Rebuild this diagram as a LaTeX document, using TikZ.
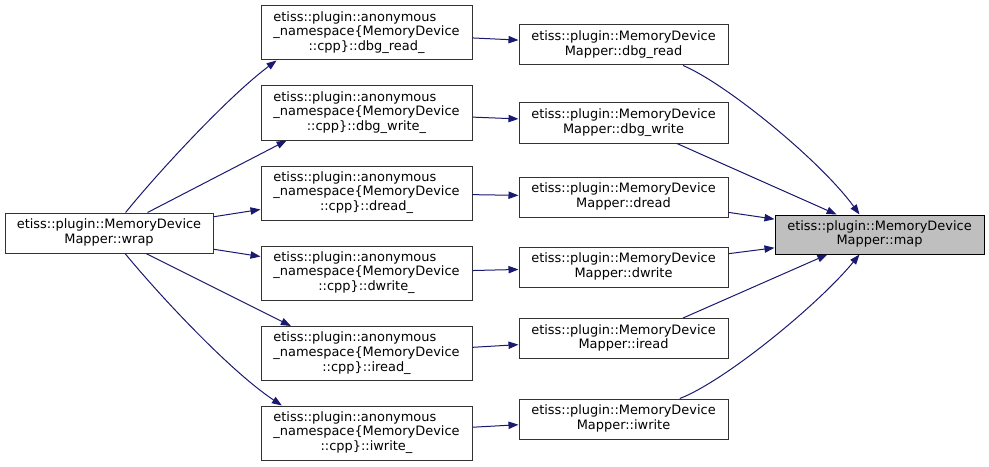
\documentclass[tikz,border=0pt]{standalone}
\usepackage{fontspec}
\setmainfont{DejaVu Sans}
\usetikzlibrary{arrows.meta}
\definecolor{edgec}{HTML}{191970}
\definecolor{mapfill}{HTML}{BFBFBF}
\newcommand\twolines[2]{\begin{tabular}{@{}c@{}}#1\\#2\end{tabular}}
\newcommand\anonlines[1]{\begin{tabular}{@{}l@{}}etiss::plugin::anonymous\\\_namespace\{MemoryDevice\\\multicolumn{1}{@{}c@{}}{::cpp\}::#1}\end{tabular}}
\begin{document}
\begin{tikzpicture}[x=0.75pt,y=-0.75pt,
  font=\fontsize{9.7}{11}\selectfont,
  box/.style={draw=black!80, line width=0.75pt, fill=white, inner sep=0pt},
  anonbox/.style={box, minimum width=158.25pt, minimum height=40.5pt},
  midbox/.style={box, minimum width=156.75pt, minimum height=30pt},
  wrapbox/.style={box, minimum width=156pt, minimum height=30pt},
  mapbox/.style={box, draw=black, fill=mapfill, minimum width=156.75pt, minimum height=29.25pt},
  conn/.style={draw=edgec, line width=0.75pt, -{Triangle[length=7.5pt,width=5.5pt]}}]
\useasboundingbox (0,0) rectangle (989,467);
\node[wrapbox] (wrap) at (109,233) {\twolines{etiss::plugin::MemoryDevice}{Mapper::wrap}};
\node[anonbox] (a1) at (366.5,33) {\anonlines{dbg\_read\_}};
\node[anonbox] (a2) at (366.5,113) {\anonlines{dbg\_write\_}};
\node[anonbox] (a3) at (366.5,193) {\anonlines{dread\_}};
\node[anonbox] (a4) at (366.5,273) {\anonlines{dwrite\_}};
\node[anonbox] (a5) at (366.5,353.5) {\anonlines{iread\_}};
\node[anonbox] (a6) at (366.5,433) {\anonlines{iwrite\_}};
\node[midbox] (m1) at (623.5,45) {\twolines{etiss::plugin::MemoryDevice}{Mapper::dbg\_read}};
\node[midbox] (m2) at (623.5,123) {\twolines{etiss::plugin::MemoryDevice}{Mapper::dbg\_write}};
\node[midbox] (m3) at (623.5,197) {\twolines{etiss::plugin::MemoryDevice}{Mapper::dread}};
\node[midbox] (m4) at (623.5,267) {\twolines{etiss::plugin::MemoryDevice}{Mapper::dwrite}};
\node[midbox] (m5) at (623.5,338.5) {\twolines{etiss::plugin::MemoryDevice}{Mapper::iread}};
\node[midbox] (m6) at (623.5,419) {\twolines{etiss::plugin::MemoryDevice}{Mapper::iwrite}};
\node[mapbox] (map) at (879.5,234.5) {\twolines{etiss::plugin::MemoryDevice}{Mapper::map}};
\draw[conn] (wrap.51.3) .. controls (160,170) and (230,95) .. (a1.197.9);
\draw[conn] (wrap.28.4) -- (a2.199.4);
\draw[conn] (wrap) -- (a3);
\draw[conn] (wrap) -- (a4);
\draw[conn] (wrap.331.6) -- (a5.160.2);
\draw[conn] (wrap.308.7) .. controls (160,296) and (230,371) .. (a6.162.1);
\draw[conn] (a1) -- (m1);
\draw[conn] (a2) -- (m2);
\draw[conn] (a3) -- (m3);
\draw[conn] (a4) -- (m4);
\draw[conn] (a5) -- (m5);
\draw[conn] (a6) -- (m6);
\draw[conn] (m1.341.1) .. controls (725,83) and (820,160) .. (map.135);
\draw[conn] (m2.339.5) -- (map.155.4);
\draw[conn] (m3) -- (map);
\draw[conn] (m4) -- (map);
\draw[conn] (m5.19.7) -- (map.201.5);
\draw[conn] (m6.20.5) .. controls (725,381) and (818,305) .. (map.225);
\end{tikzpicture}
\end{document}
